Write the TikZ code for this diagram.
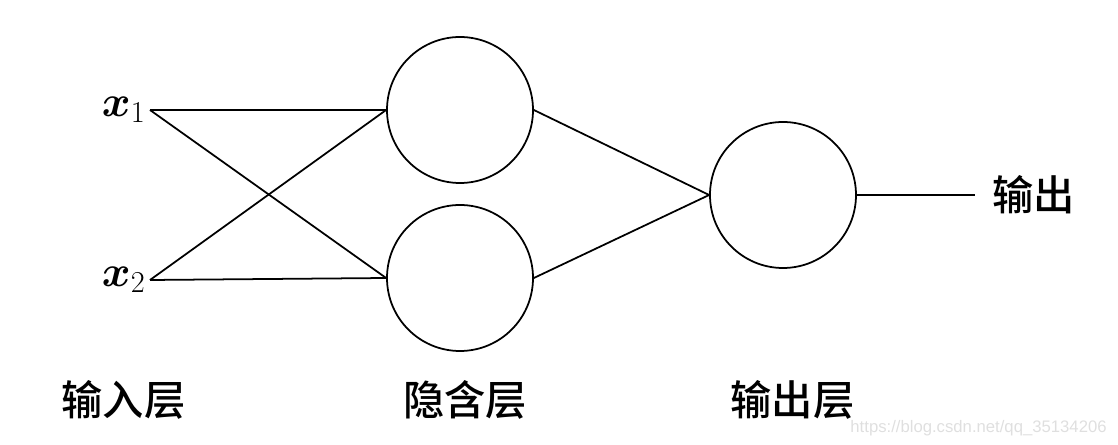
\documentclass[tikz,border=0pt]{standalone}
\usepackage{amsmath}
\usepackage{amssymb}
\usepackage{fontspec}
\usepackage{tikz}
\usetikzlibrary{positioning}
\newfontfamily\cjk{Noto Sans CJK SC Medium}
\newfontfamily\wmfont{Liberation Sans}

\begin{document}
\begin{tikzpicture}[
          nr/.style={circle,draw,line width=1pt,minimum size=2.92cm,inner sep=0pt},
          inp/.style={anchor=east,inner sep=2pt,font=\fontsize{23}{25}\selectfont},
          lyr/.style={font=\cjk\fontsize{23.5}{26}\selectfont},
          every path/.style={line width=1pt},
          node distance=3.36cm
        ]
        \useasboundingbox (0,0) rectangle (22.36,-8.9);
        \node[inp] (x1) at (3.0,-2.2) {$\boldsymbol{x}_1$};
        \node[inp] (x2) at (3.0,-5.6) {$\boldsymbol{x}_2$};
        \node[nr] (h1) at (9.2,-2.2) {};
        \node[nr] (h2) [below of=h1] {};
        \node[nr] (o) at (15.66,-3.9) {};
        \node[lyr,anchor=west,inner xsep=0.33cm] (y) at (19.5,-3.9) {输出};
        \node[lyr] (l1) at (2.47,-8.0) {输入层};
        \node[lyr] (l2) at (9.3,-8.0) {隐含层};
        \node[lyr] (l3) at (15.85,-8.0) {输出层};
        \node[text=gray!25,anchor=east,inner sep=0pt,font=\wmfont\fontsize{9.5}{12}\selectfont] (wm) at (22.15,-8.56) {https://blog.csdn.net/qq\_35134206};
        \draw (x1.east) -- (h1.west);
        \draw (x1.east) -- (h2.west);
        \draw (x2.east) -- (h1.west);
        \draw (x2.east) -- (h2.west);
        \draw (h1.east) -- (o.west);
        \draw (h2.east) -- (o.west);
        \draw (o.east) -- (y.west);
      \end{tikzpicture}
\end{document}
